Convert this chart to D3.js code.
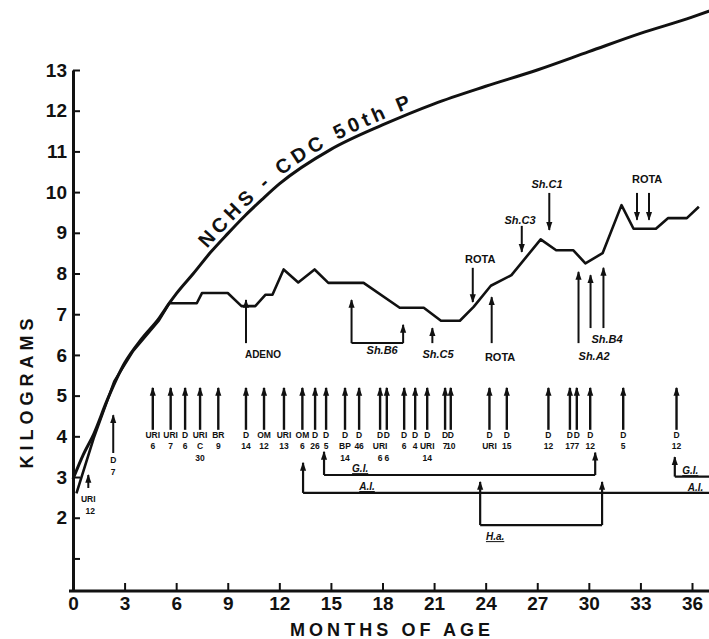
<!DOCTYPE html>
<html>
<head>
<meta charset="utf-8">
<script src="https://cdn.jsdelivr.net/npm/d3@7"></script>
<style>
  body { margin: 0; background: #fff; }
  svg { display: block; font-family: "Liberation Sans", Arial, sans-serif; font-weight: bold; }
</style>
</head>
<body>
<div id="chart"></div>
<script>
// NCHS-CDC 50th percentile reference curve (months, kg)
const nchsMonths = [0, 0.6, 1.2, 2, 3, 4, 5, 5.6, 6, 7, 8, 9, 10, 11, 12, 15, 18, 21, 24, 27, 30, 33, 36, 37];
const nchsKg = [2.95, 3.55, 4.05, 4.9, 5.8, 6.4, 6.9, 7.27, 7.5, 8.0, 8.52, 8.98, 9.42, 9.82, 10.2, 11.05, 11.65, 12.17, 12.6, 13.0, 13.45, 13.9, 14.3, 14.45];

// child's weight record
const weightMonths = [0.2, 1.2, 2.4, 3.5, 5.0, 5.6, 7.2, 7.5, 9.0, 9.8, 10.6, 11.2, 11.6, 12.25, 13.1, 14.05, 14.85, 16.9, 19.0, 20.4, 21.4, 22.5, 23.3, 24.3, 25.5, 27.2, 28.1, 29.1, 29.8, 30.8, 31.9, 32.6, 33.9, 34.6, 35.7, 36.4];
const weightKg = [2.6, 3.95, 5.35, 6.1, 6.85, 7.27, 7.27, 7.52, 7.52, 7.2, 7.2, 7.48, 7.48, 8.1, 7.78, 8.1, 7.77, 7.77, 7.16, 7.16, 6.84, 6.84, 7.18, 7.7, 7.96, 8.84, 8.57, 8.57, 8.25, 8.5, 9.68, 9.1, 9.1, 9.36, 9.36, 9.64];

const xTicks = d3.range(0, 37, 3);
const yTicks = d3.range(1, 14);

// illness episodes (bottom row of arrows)
const eventMonths = [4.64, 5.68, 6.52, 7.39, 8.45, 10.06, 11.11, 12.27, 13.34, 14.08, 14.72, 15.82, 16.64, 17.86, 18.25, 19.26, 19.9, 20.6, 21.64, 21.97, 24.22, 25.23, 27.65, 28.9, 29.3, 30.08, 32.0, 35.1];
const eventLabels = [
  ['URI', '6'], ['URI', '7'], ['D', '6'], ['URI', 'C', '30'], ['BR', '9'], ['D', '14'], ['OM', '12'],
  ['URI', '13'], ['OM', '6'], ['D', '26'], ['D', '5'], ['D', 'BP', '14'], ['D', '46'], ['D', 'URI', '6'],
  ['D', '', '6'], ['D', '6'], ['D', '4'], ['D', 'URI', '14'], ['D', '7'], ['D', '10'], ['D', 'URI'],
  ['D', '15'], ['D', '12'], ['D', '17'], ['D', '7'], ['D', '12'], ['D', '5'], ['D', '12']
];
const eventBaseKg = 4.16;
const eventTipKg = 5.19;

// early episodes drawn lower
const earlyEvents = [
  { m: 0.89, from: 2.73, to: 3.05, lines: ['URI', '12'] },
  { m: 2.34, from: 3.59, to: 4.52, lines: ['D', '7'] }
];

// pathogen isolations (arrows near the weight line)
const pathogenArrows = [
  { m: 10.06, from: 6.29, to: 7.35 },
  { m: 16.2, from: 6.29, to: 7.35 },
  { m: 19.2, from: 6.29, to: 6.74 },
  { m: 20.9, from: 6.29, to: 6.66 },
  { m: 24.35, from: 6.29, to: 7.42 },
  { m: 29.4, from: 6.29, to: 8.04 },
  { m: 30.1, from: 6.66, to: 7.96 },
  { m: 30.85, from: 6.66, to: 8.14 },
  { m: 23.25, from: 8.14, to: 7.3 },
  { m: 26.1, from: 9.17, to: 8.53 },
  { m: 27.7, from: 9.98, to: 9.07 },
  { m: 32.8, from: 9.98, to: 9.32 },
  { m: 33.5, from: 9.98, to: 9.32 }
];
const pathogenLabels = [
  { text: 'ADENO', m: 11.05, kg: 5.92, italic: false },
  { text: 'Sh.B6', m: 17.98, kg: 6.02, italic: true },
  { text: 'Sh.C5', m: 21.23, kg: 5.92, italic: true },
  { text: 'ROTA', m: 24.84, kg: 5.85, italic: false },
  { text: 'ROTA', m: 23.68, kg: 8.26, italic: false },
  { text: 'Sh.C3', m: 26.0, kg: 9.22, italic: true },
  { text: 'Sh.C1', m: 27.57, kg: 10.1, italic: true },
  { text: 'ROTA', m: 33.39, kg: 10.22, italic: false },
  { text: 'Sh.B4', m: 31.06, kg: 6.29, italic: true },
  { text: 'Sh.A2', m: 30.31, kg: 5.88, italic: true }
];
// Sh.B6 bracket
const bracketB6 = { m0: 16.2, m1: 19.2, kg: 6.29 };

// intervals below (G.I., A.I., H.a.)
const intervalLines = [
  { m0: 14.6, m1: 30.37, kg: 3.05 },
  { m0: 13.38, m1: 37, kg: 2.61 },
  { m0: 23.68, m1: 30.77, kg: 1.82 },
  { m0: 35.0, m1: 37, kg: 3.01 }
];
const intervalArrows = [
  { m: 14.6, from: 3.05, to: 3.62 },
  { m: 30.37, from: 3.05, to: 3.6 },
  { m: 13.38, from: 2.61, to: 3.35 },
  { m: 23.68, from: 1.82, to: 2.88 },
  { m: 30.77, from: 1.82, to: 2.88 },
  { m: 35.0, from: 3.01, to: 3.49 }
];
const intervalLabels = [
  { text: 'G.I.', m: 16.7, kg: 3.12 },
  { text: 'A.I.', m: 17.1, kg: 2.68 },
  { text: 'H.a.', m: 24.55, kg: 1.45 },
  { text: 'G.I.', m: 35.9, kg: 3.07 },
  { text: 'A.I.', m: 36.2, kg: 2.66 }
];

const W = 709, H = 639;
const x = d3.scaleLinear().domain([0, 36]).range([73, 692]);
const y = d3.scaleLinear().domain([0.2, 13]).range([591, 70]);

const svg = d3.select('#chart').append('svg')
  .attr('width', W).attr('height', H);

svg.append('rect').attr('width', W).attr('height', H).attr('fill', '#fff');

const defs = svg.append('defs');
defs.append('marker')
  .attr('id', 'head')
  .attr('viewBox', '0 0 10 8')
  .attr('refX', 9).attr('refY', 4)
  .attr('markerWidth', 9).attr('markerHeight', 7)
  .attr('markerUnits', 'userSpaceOnUse')
  .attr('orient', 'auto')
  .append('path').attr('d', 'M0,0.5 L10,4 L0,7.5 Z').attr('fill', '#111');

// axes
const yAxis = d3.axisLeft(y)
  .tickValues(yTicks)
  .tickFormat(d => d === 1 ? '' : d)
  .tickSize(-7).tickSizeOuter(0).tickPadding(6);

svg.append('g').attr('class', 'axis y')
  .attr('transform', `translate(${x(0)},0)`)
  .call(yAxis)
  .call(g => g.select('.domain').attr('stroke', '#111').attr('stroke-width', 3))
  .call(g => g.selectAll('.tick line').attr('stroke', '#111').attr('stroke-width', 2))
  .call(g => g.selectAll('.tick text')
    .attr('fill', '#111').style('font-size', '19px').style('font-weight', 'bold'));

const xAxis = d3.axisBottom(x)
  .tickValues(xTicks)
  .tickSize(-8).tickSizeOuter(0).tickPadding(6);

svg.append('g').attr('class', 'axis x')
  .attr('transform', `translate(0,${y(0.2)})`)
  .call(xAxis)
  .call(g => g.select('.domain').remove())
  .call(g => g.selectAll('.tick line').attr('stroke', '#111').attr('stroke-width', 2))
  .call(g => g.selectAll('.tick text')
    .attr('fill', '#111').style('font-size', '19px').style('font-weight', 'bold'));

svg.append('line')
  .attr('x1', x(0) - 4).attr('x2', W)
  .attr('y1', y(0.2)).attr('y2', y(0.2))
  .attr('stroke', '#111').attr('stroke-width', 3);

svg.append('text')
  .attr('transform', `translate(27,${(y(3.2) + y(6.9)) / 2}) rotate(-90)`)
  .attr('text-anchor', 'middle')
  .attr('dy', '0.35em')
  .attr('textLength', 150).attr('lengthAdjust', 'spacing')
  .style('font-size', '18px')
  .attr('fill', '#111')
  .text('KILOGRAMS');

svg.append('text')
  .attr('x', 390).attr('y', 636)
  .attr('text-anchor', 'middle')
  .attr('textLength', 200).attr('lengthAdjust', 'spacing')
  .style('font-size', '18px')
  .attr('fill', '#111')
  .text('MONTHS OF AGE');

// NCHS curve
const nchsData = nchsMonths.map((m, i) => [m, nchsKg[i]]);
const curveLine = d3.line().x(d => x(d[0])).y(d => y(d[1])).curve(d3.curveMonotoneX);
const nchsPath = svg.append('path')
  .attr('id', 'nchs')
  .datum(nchsData)
  .attr('d', curveLine)
  .attr('fill', 'none')
  .attr('stroke', '#111')
  .attr('stroke-width', 3);

// child weight
const weightData = weightMonths.map((m, i) => [m, weightKg[i]]);
svg.append('path')
  .datum(weightData)
  .attr('d', d3.line().x(d => x(d[0])).y(d => y(d[1])))
  .attr('fill', 'none')
  .attr('stroke', '#111')
  .attr('stroke-width', 2.6)
  .attr('stroke-linejoin', 'round');

// label along the curve
function lengthAtX(node, targetX) {
  let lo = 0, hi = node.getTotalLength();
  for (let i = 0; i < 40; i++) {
    const mid = (lo + hi) / 2;
    if (node.getPointAtLength(mid).x < targetX) lo = mid; else hi = mid;
  }
  return lo;
}
const node = nchsPath.node();
const l0 = lengthAtX(node, x(8.0));
const l1 = lengthAtX(node, x(19.8));
svg.append('text')
  .attr('dy', -5)
  .style('font-size', '20px')
  .attr('fill', '#111')
  .append('textPath')
  .attr('href', '#nchs')
  .attr('startOffset', l0)
  .attr('textLength', l1 - l0)
  .attr('lengthAdjust', 'spacing')
  .text('NCHS - CDC  50th P');

// arrow helper
function arrow(g, m, from, to, width) {
  g.append('line')
    .attr('x1', x(m)).attr('x2', x(m))
    .attr('y1', y(from)).attr('y2', y(to))
    .attr('stroke', '#111')
    .attr('stroke-width', width)
    .attr('marker-end', 'url(#head)');
}

// bottom row episodes
const ev = svg.append('g').attr('class', 'events');
eventMonths.forEach((m, i) => {
  arrow(ev, m, eventBaseKg, eventTipKg, 2.4);
  eventLabels[i].forEach((t, j) => {
    ev.append('text')
      .attr('x', x(m)).attr('y', y(eventBaseKg) + 8 + j * 11.5)
      .attr('text-anchor', 'middle')
      .style('font-size', '8.5px')
      .attr('fill', '#111')
      .text(t);
  });
});
earlyEvents.forEach(e => {
  arrow(ev, e.m, e.from, e.to, 2);
  e.lines.forEach((t, j) => {
    ev.append('text')
      .attr('x', x(e.m) + (j === 1 && e.lines[0] === 'URI' ? 2 : 0))
      .attr('y', y(e.from) + (e.lines[0] === 'URI' ? 14 : 10) + j * 11.5)
      .attr('text-anchor', 'middle')
      .style('font-size', '8.5px')
      .attr('fill', '#111')
      .text(t);
  });
});

// pathogen arrows and labels
const pg = svg.append('g').attr('class', 'pathogens');
pathogenArrows.forEach(a => arrow(pg, a.m, a.from, a.to, 2));
pg.append('line')
  .attr('x1', x(bracketB6.m0)).attr('x2', x(bracketB6.m1))
  .attr('y1', y(bracketB6.kg)).attr('y2', y(bracketB6.kg))
  .attr('stroke', '#111').attr('stroke-width', 2);
pathogenLabels.forEach(l => {
  pg.append('text')
    .attr('x', x(l.m)).attr('y', y(l.kg))
    .attr('text-anchor', 'middle')
    .style('font-size', l.text === 'ADENO' ? '10px' : '11px')
    .style('font-style', l.italic ? 'italic' : 'normal')
    .attr('fill', '#111')
    .text(l.text);
});

// intervals
const iv = svg.append('g').attr('class', 'intervals');
intervalLines.forEach(l => {
  iv.append('line')
    .attr('x1', x(l.m0)).attr('x2', x(l.m1))
    .attr('y1', y(l.kg)).attr('y2', y(l.kg))
    .attr('stroke', '#111').attr('stroke-width', 2.2);
});
intervalArrows.forEach(a => arrow(iv, a.m, a.from, a.to, 2.2));
intervalLabels.forEach(l => {
  iv.append('text')
    .attr('x', x(l.m)).attr('y', y(l.kg))
    .attr('text-anchor', 'middle')
    .style('font-size', '10px')
    .style('font-style', 'italic')
    .style('text-decoration', 'underline')
    .attr('fill', '#111')
    .text(l.text);
});
</script>
</body>
</html>
